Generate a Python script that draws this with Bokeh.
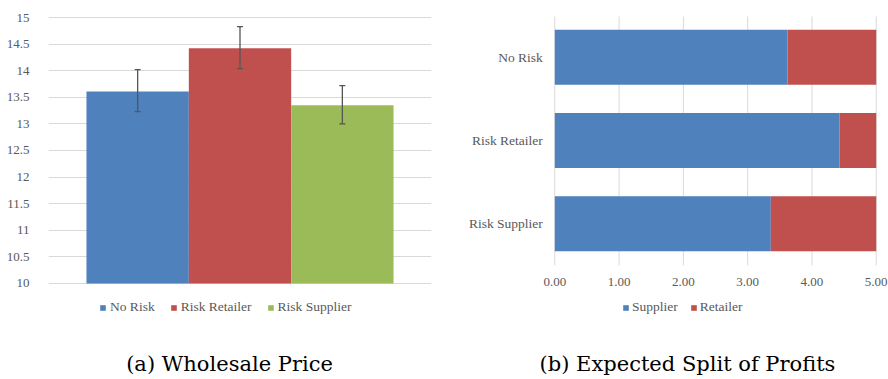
from bokeh.plotting import figure
from bokeh.models import (Range1d, ColumnDataSource, Whisker, Legend, LegendItem,
                          Label, FixedTicker)
from bokeh.core.properties import value
from bokeh.layouts import row
from bokeh.embed import file_html
from bokeh.resources import INLINE

# ---- data ----
scenarios = ["No Risk", "Risk Retailer", "Risk Supplier"]
wholesale_price = [13.61, 14.42, 13.35]
price_err_low = [13.23, 14.04, 13.00]
price_err_high = [14.02, 14.83, 13.72]
price_ticks = [10, 10.5, 11, 11.5, 12, 12.5, 13, 13.5, 14, 14.5, 15]

split_categories = ["No Risk", "Risk Retailer", "Risk Supplier"]
supplier_profit = [3.62, 4.43, 3.36]
retailer_profit = [1.38, 0.57, 1.64]
split_ticks = [0, 1, 2, 3, 4, 5]

caption_a = "(a) Wholesale Price"
caption_b = "(b) Expected Split of Profits"

# ---- style ----
BLUE, RED, GREEN = "#4f81bd", "#c0504d", "#9bbb59"
TXT = "#595959"
GRID = "#d9d9d9"
FONT = "Liberation Serif"
CAP_FONT = "DejaVu Serif"

# ---- left chart ----
p1 = figure(width=444, height=379, output_backend="svg", toolbar_location=None,
            x_range=Range1d(-0.871, 2.871), y_range=Range1d(8.195, 15.019),
            min_border_left=48, min_border_right=13, min_border_top=16, min_border_bottom=0)
p1.outline_line_color = None
p1.xaxis.visible = False
p1.xgrid.visible = False
p1.ygrid.grid_line_color = GRID
p1.ygrid.grid_line_width = 1
p1.yaxis.ticker = FixedTicker(ticks=price_ticks)
p1.yaxis.axis_line_color = None
p1.yaxis.major_tick_line_color = None
p1.yaxis.minor_tick_line_color = None
p1.yaxis.major_label_standoff = 13
p1.yaxis.major_label_text_font = FONT
p1.yaxis.major_label_text_font_size = "13px"
p1.yaxis.major_label_text_color = TXT

colors = [BLUE, RED, GREEN]
idx = list(range(len(scenarios)))
src1 = ColumnDataSource(dict(x=idx, top=wholesale_price, lo=price_err_low, hi=price_err_high))
renderers1 = []
for i, name in enumerate(scenarios):
    r = p1.vbar(x=[idx[i]], top=[wholesale_price[i]], bottom=price_ticks[0], width=1.0,
                fill_color=colors[i], line_color=None)
    renderers1.append(r)
w = Whisker(source=src1, base="x", upper="hi", lower="lo", line_color="#555555",
            line_width=1.3, level="overlay")
for head in (w.upper_head, w.lower_head):
    head.size = 6
    head.line_color = "#555555"
    head.line_width = 1.3
p1.add_layout(w)

leg1 = Legend(items=[LegendItem(label=n, renderers=[r]) for n, r in zip(scenarios, renderers1)],
              orientation="horizontal", location=(51, 64), padding=0, margin=0,
              glyph_width=7, glyph_height=7, label_height=14, label_standoff=4, spacing=15,
              label_text_font=FONT, label_text_font_size="13.5px", label_text_color=TXT,
              border_line_color=None, background_fill_alpha=0)
p1.add_layout(leg1)

p1.add_layout(Label(x=181, y=16, x_units="screen", y_units="screen", text=caption_a,
                    text_align="center", text_baseline="middle", text_font=CAP_FONT,
                    text_font_size="21px", text_color="black"))

# ---- right chart ----
ypos = [len(split_categories) - 1 - i for i in range(len(split_categories))]
p2 = figure(width=444, height=379, output_backend="svg", toolbar_location=None,
            x_range=Range1d(-1.716, 5.191), y_range=Range1d(-1.873, 2.490),
            min_border_left=0, min_border_right=0, min_border_top=16, min_border_bottom=0)
p2.outline_line_color = None
p2.ygrid.visible = False
p2.xgrid.visible = False
p2.xaxis.visible = False
p2.yaxis.visible = False

band_lo = min(ypos) - 0.5
band_hi = max(ypos) + 0.5
# vertical grid lines spanning the category bands
p2.segment(x0=split_ticks, x1=split_ticks, y0=band_lo, y1=band_hi,
           line_color=GRID, line_width=1)
# x tick labels under the bands
p2.text(x=split_ticks, y=band_lo, text=[f"{t:.2f}" for t in split_ticks],
        y_offset=17, text_align="center", text_baseline="middle",
        text_font=value(FONT), text_font_size="13px", text_color=TXT)
# category labels left of the bars
p2.text(x=split_ticks[0], y=ypos, text=split_categories,
        x_offset=-12, text_align="right", text_baseline="middle",
        text_font=value(FONT), text_font_size="13.5px", text_color=TXT)

src2 = ColumnDataSource(dict(y=ypos, Supplier=supplier_profit, Retailer=retailer_profit))
rs = p2.hbar_stack(["Supplier", "Retailer"], y="y", height=0.661, color=[BLUE, RED],
                   line_color=None, source=src2)
leg2 = Legend(items=[LegendItem(label="Supplier", renderers=[rs[0]]),
                     LegendItem(label="Retailer", renderers=[rs[1]])],
              orientation="horizontal", location=(178, 64), padding=0, margin=0,
              glyph_width=7, glyph_height=7, label_height=14, label_standoff=3, spacing=12,
              label_text_font=FONT, label_text_font_size="13.5px", label_text_color=TXT,
              border_line_color=None, background_fill_alpha=0)
p2.add_layout(leg2)

p2.add_layout(Label(x=243, y=16, x_units="screen", y_units="screen", text=caption_b,
                    text_align="center", text_baseline="middle", text_font=CAP_FONT,
                    text_font_size="21px", text_color="black"))

layout = row(p1, p2)
open("out.html", "w").write(file_html(layout, INLINE))
